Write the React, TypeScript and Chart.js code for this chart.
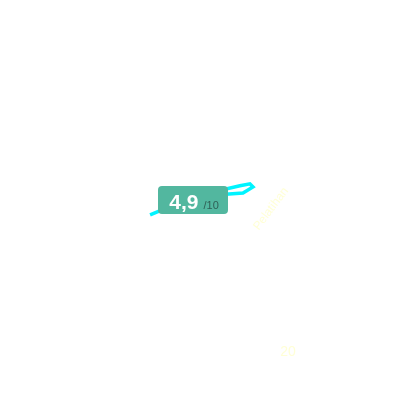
import { useEffect, useRef } from 'react'
import { Chart, registerables } from 'chart.js'
import type { Plugin } from 'chart.js'
Chart.register(...registerables)

// trazo de la puntuación (unidades del eje 0..100)
const LINE_X = [37.0, 48.7, 60.4, 63.0, 63.8, 61.2, 53.9]
const LINE_Y = [46.1, 51.0, 53.7, 54.2, 53.4, 51.8, 51.3]

// etiquetas tenues
const LABEL_TEXT = ['Pelatihan', '20']
const LABEL_X = [68.5, 72.9]
const LABEL_Y = [47.7, 10.4]
const LABEL_ROT = [-53, 0]

const SCORE = '4,9'
const SCORE_MAX = '/10'

const labelsPlugin: Plugin<'scatter'> = {
  id: 'fadedLabels',
  afterDatasetsDraw(chart) {
    const { ctx, scales } = chart
    ctx.save()
    ctx.fillStyle = '#ffffd6'
    ctx.textAlign = 'center'
    ctx.textBaseline = 'middle'
    LABEL_TEXT.forEach((t, i) => {
      ctx.save()
      ctx.translate(scales.x.getPixelForValue(LABEL_X[i]), scales.y.getPixelForValue(LABEL_Y[i]))
      ctx.rotate((LABEL_ROT[i] * Math.PI) / 180)
      ctx.font = `${i === 0 ? 12 : 14}px "Liberation Sans", Arial, sans-serif`
      ctx.fillText(t, 0, 0)
      ctx.restore()
    })
    ctx.restore()
  },
}

export default function App() {
  const ref = useRef<HTMLCanvasElement>(null)

  useEffect(() => {
    if (!ref.current) return
    const chart = new Chart(ref.current, {
      type: 'scatter',
      data: {
        datasets: [{
          data: LINE_X.map((x, i) => ({ x, y: LINE_Y[i] })),
          showLine: true,
          borderColor: '#00f4ff',
          borderWidth: 3.5,
          pointRadius: 0,
          tension: 0,
        }],
      },
      options: {
        responsive: true, maintainAspectRatio: false, animation: false,
        layout: { padding: 0 },
        scales: {
          x: { type: 'linear', min: 0, max: 100, display: false },
          y: { type: 'linear', min: 0, max: 100, display: false },
        },
        plugins: { legend: { display: false }, tooltip: { enabled: false } },
      },
      plugins: [labelsPlugin],
    })
    return () => chart.destroy()
  }, [])

  return (
    <div style={{ position: 'relative', width: 384, height: 384, fontFamily: '"Liberation Sans", Arial, sans-serif' }}>
      <canvas ref={ref} />
      <div style={{
        position: 'absolute', left: 150, top: 178, width: 70, height: 28, background: '#52b79f', borderRadius: 4,
        display: 'flex', alignItems: 'baseline', justifyContent: 'center', gap: 5, paddingTop: 2, paddingLeft: 2, boxSizing: 'border-box',
      }}>
        <span style={{ fontSize: 21, fontWeight: 700, color: '#fff', lineHeight: '27px' }}>{SCORE}</span>
        <span style={{ fontSize: 11, color: '#2f5f55' }}>{SCORE_MAX}</span>
      </div>
    </div>
  )
}
